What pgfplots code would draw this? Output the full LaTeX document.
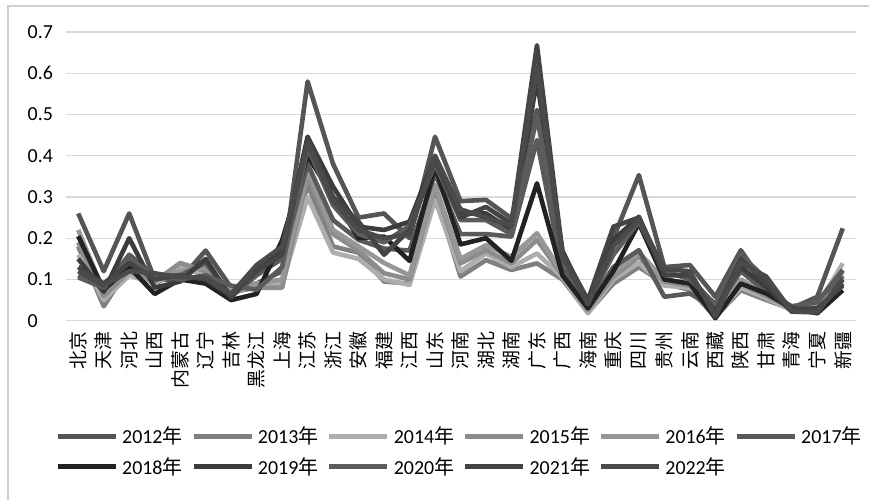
\documentclass[border=0pt]{standalone}
\usepackage{fontspec}
\setmainfont{Carlito}
\newfontfamily\cjk{Noto Sans CJK SC}
\usepackage{pgfplots}
\pgfplotsset{compat=1.18}
\usepackage{pgfplotstable}
\definecolor{c2012}{HTML}{555555}
\definecolor{c2013}{HTML}{808080}
\definecolor{c2014}{HTML}{ADADAD}
\definecolor{c2015}{HTML}{8C8C8C}
\definecolor{c2016}{HTML}{979797}
\definecolor{c2017}{HTML}{5A5A5A}
\definecolor{c2018}{HTML}{222222}
\definecolor{c2019}{HTML}{3C3C3C}
\definecolor{c2020}{HTML}{5C5C5C}
\definecolor{c2021}{HTML}{444444}
\definecolor{c2022}{HTML}{4A4A4A}
\definecolor{gridgray}{HTML}{D9D9D9}
\definecolor{framegray}{HTML}{D0D0D0}

\pgfplotstableread{
x  y2012 y2013 y2014 y2015 y2016 y2017 y2018 y2019 y2020 y2021 y2022
0  0.26  0.18  0.16  0.19  0.22  0.105 0.205 0.15  0.11  0.13  0.12
1  0.12  0.035 0.05  0.06  0.07  0.08  0.075 0.07  0.08  0.09  0.085
2  0.26  0.13  0.11  0.12  0.14  0.16  0.13  0.20  0.15  0.14  0.12
3  0.10  0.09  0.09  0.095 0.10  0.11  0.065 0.08  0.11  0.10  0.115
4  0.10  0.12  0.13  0.14  0.12  0.11  0.10  0.095 0.10  0.11  0.105
5  0.17  0.12  0.11  0.12  0.13  0.14  0.09  0.15  0.11  0.10  0.105
6  0.08  0.07  0.065 0.07  0.075 0.06  0.05  0.055 0.085 0.06  0.065
7  0.09  0.08  0.085 0.08  0.09  0.11  0.065 0.13  0.075 0.12  0.135
8  0.12  0.085 0.09  0.08  0.10  0.15  0.195 0.17  0.13  0.16  0.18
9  0.58  0.33  0.30  0.35  0.365 0.38  0.40  0.446 0.42  0.44  0.43
10 0.38  0.18  0.165 0.21  0.22  0.244 0.30  0.325 0.28  0.30  0.29
11 0.25  0.165 0.15  0.17  0.18  0.196 0.20  0.228 0.21  0.24  0.22
12 0.26  0.095 0.10  0.115 0.14  0.175 0.204 0.22  0.19  0.16  0.20
13 0.20  0.09  0.087 0.10  0.11  0.17  0.145 0.24  0.23  0.22  0.21
14 0.446 0.31  0.293 0.325 0.33  0.357 0.373 0.398 0.38  0.39  0.40
15 0.29  0.107 0.12  0.139 0.15  0.21  0.185 0.26  0.244 0.25  0.27
16 0.293 0.147 0.163 0.171 0.183 0.21  0.20  0.26  0.244 0.276 0.25
17 0.248 0.123 0.13  0.139 0.155 0.204 0.145 0.22  0.21  0.235 0.23
18 0.511 0.139 0.163 0.196 0.212 0.438 0.333 0.584 0.495 0.668 0.616
19 0.13  0.10  0.105 0.11  0.115 0.12  0.11  0.17  0.16  0.165 0.155
20 0.03  0.02  0.018 0.025 0.028 0.035 0.03  0.04  0.045 0.05  0.04
21 0.20  0.09  0.10  0.107 0.115 0.13  0.12  0.196 0.16  0.228 0.18
22 0.353 0.13  0.14  0.155 0.165 0.171 0.236 0.252 0.24  0.25  0.245
23 0.13  0.09  0.085 0.095 0.10  0.058 0.10  0.115 0.12  0.11  0.125
24 0.135 0.075 0.08  0.085 0.09  0.066 0.09  0.107 0.10  0.11  0.12
25 0.058 0.01  0.012 0.015 0.02  0.03  0.006 0.034 0.04  0.02  0.01
26 0.171 0.074 0.08  0.09  0.10  0.12  0.09  0.13  0.16  0.15  0.14
27 0.08  0.05  0.055 0.06  0.065 0.07  0.066 0.082 0.10  0.09  0.107
28 0.03  0.028 0.025 0.03  0.032 0.035 0.03  0.022 0.025 0.028 0.022
29 0.058 0.04  0.035 0.03  0.04  0.045 0.018 0.026 0.05  0.03  0.02
30 0.224 0.12  0.139 0.10  0.11  0.123 0.074 0.09  0.107 0.085 0.10
}\data

\begin{document}
\begin{tikzpicture}
\path[use as bounding box] (0,0) rectangle (869bp,500bp);
\draw[framegray, line width=1.5bp] (8bp,0) -- (8bp,494bp) -- (869bp,494bp);
\begin{axis}[
  at={(65.5bp,179.3bp)}, anchor=south west,
  scale only axis, width=790bp, height=288.7bp,
  xmin=-0.5, xmax=30.5, ymin=0, ymax=0.7,
  xtick={0,1,...,30},
  xticklabels={北京,天津,河北,山西,内蒙古,辽宁,吉林,黑龙江,上海,江苏,浙江,安徽,福建,江西,山东,河南,湖北,湖南,广东,广西,海南,重庆,四川,贵州,云南,西藏,陕西,甘肃,青海,宁夏,新疆},
  ytick={0,0.1,0.2,0.3,0.4,0.5,0.6,0.7},
  yticklabels={0,0.1,0.2,0.3,0.4,0.5,0.6,0.7},
  axis line style={draw=none},
  major tick length=0pt,
  ymajorgrids,
  grid style={gridgray, line width=1.4bp},
  yticklabel style={font=\fontsize{20}{20}\selectfont, anchor=west, inner sep=0pt},
  yticklabel shift=38bp,
  xticklabel style={font=\cjk\fontsize{19}{19}\selectfont, rotate=90, anchor=east, inner sep=0pt},
  xticklabel shift=11bp,
  every axis plot/.append style={line width=4.6bp, line join=round, no markers},
  legend columns=6,
  legend style={draw=none, fill=none, at={(0,0)}, anchor=north west,
    xshift=-10.5bp, yshift=-104bp, inner sep=0pt,
    font=\fontsize{20}{20}\selectfont, row sep=8bp,
    /tikz/every odd column/.append style={column sep=2bp},
    /tikz/every even column/.append style={column sep=6.5bp}},
  legend image code/.code={\draw[#1, line width=5bp, line cap=butt] (0bp,0bp) -- (58bp,0bp);},
]
\addplot[c2012] table[x=x, y=y2012] {\data}; \addlegendentry{2012{\cjk 年}}
\addplot[c2013] table[x=x, y=y2013] {\data}; \addlegendentry{2013{\cjk 年}}
\addplot[c2014] table[x=x, y=y2014] {\data}; \addlegendentry{2014{\cjk 年}}
\addplot[c2015] table[x=x, y=y2015] {\data}; \addlegendentry{2015{\cjk 年}}
\addplot[c2016] table[x=x, y=y2016] {\data}; \addlegendentry{2016{\cjk 年}}
\addplot[c2017] table[x=x, y=y2017] {\data}; \addlegendentry{2017{\cjk 年}}
\addplot[c2018] table[x=x, y=y2018] {\data}; \addlegendentry{2018{\cjk 年}}
\addplot[c2019] table[x=x, y=y2019] {\data}; \addlegendentry{2019{\cjk 年}}
\addplot[c2020] table[x=x, y=y2020] {\data}; \addlegendentry{2020{\cjk 年}}
\addplot[c2021] table[x=x, y=y2021] {\data}; \addlegendentry{2021{\cjk 年}}
\addplot[c2022] table[x=x, y=y2022] {\data}; \addlegendentry{2022{\cjk 年}}
\end{axis}
\end{tikzpicture}
\end{document}
